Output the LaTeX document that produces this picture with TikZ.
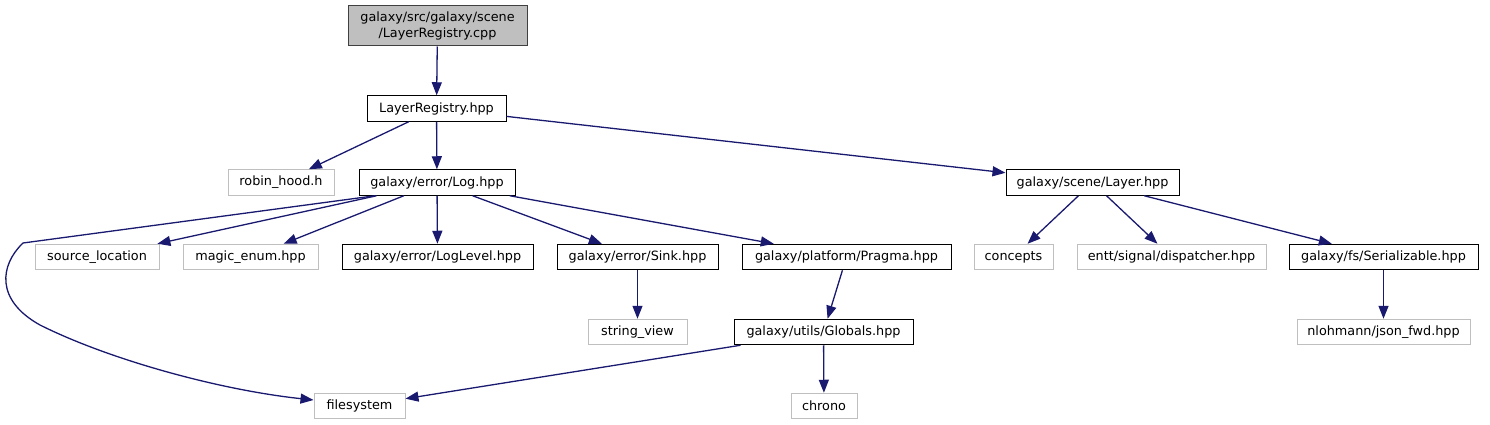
\documentclass[tikz,border=0pt]{standalone}
\usepackage{fontspec}
\setmainfont{DejaVu Sans}
\usetikzlibrary{arrows.meta}
\definecolor{edgecol}{HTML}{191970}
\definecolor{extgray}{HTML}{BFBFBF}
\definecolor{rootfill}{HTML}{BFBFBF}
\definecolor{rootdraw}{HTML}{404040}
\begin{document}
\begin{tikzpicture}[x=1pt,y=-1pt,
  box/.style={rectangle, inner sep=0pt, minimum height=25.5pt, line width=1pt, font=\fontsize{12.8}{16}\selectfont, text=black},
  doc/.style={box, draw=black},
  ext/.style={box, draw=extgray},
  rootbox/.style={box, draw=rootdraw, fill=rootfill, minimum height=40pt, align=center},
  edge/.style={draw=edgecol, line width=1.3pt, -{Triangle[length=13pt,width=10pt]}}]
\useasboundingbox (0,0) rectangle (1490,425);

% nodes
\node[rootbox, minimum width=179pt] (root) at (437.5,26) {galaxy/src/galaxy/scene\\/LayerRegistry.cpp};
\node[doc, minimum width=139pt] (lr) at (436.5,108.5) {LayerRegistry.hpp};
\node[ext, minimum width=106pt] (robin) at (281,182.5) {robin\_hood.h};
\node[doc, minimum width=156pt] (log) at (437,182.5) {galaxy/error/Log.hpp};
\node[doc, minimum width=173pt] (layer) at (1092.5,182.5) {galaxy/scene/Layer.hpp};
\node[ext, minimum width=124pt] (srcloc) at (97,257) {source\_location};
\node[ext, minimum width=135pt] (magic) at (250.5,257) {magic\_enum.hpp};
\node[doc, minimum width=191pt] (loglevel) at (437.5,257) {galaxy/error/LogLevel.hpp};
\node[doc, minimum width=161pt] (sink) at (637.5,257) {galaxy/error/Sink.hpp};
\node[doc, minimum width=209pt] (pragma) at (846.5,257) {galaxy/platform/Pragma.hpp};
\node[ext, minimum width=79pt] (concepts) at (1013.5,257) {concepts};
\node[ext, minimum width=189pt] (entt) at (1171.5,257) {entt/signal/dispatcher.hpp};
\node[doc, minimum width=189pt] (serial) at (1383.5,257) {galaxy/fs/Serializable.hpp};
\node[ext, minimum width=99pt] (strview) at (637.5,332) {string\_view};
\node[doc, minimum width=179pt] (globals) at (823.5,332) {galaxy/utils/Globals.hpp};
\node[ext, minimum width=173pt] (json) at (1383.5,332) {nlohmann/json\_fwd.hpp};
\node[ext, minimum width=91pt] (fs) at (359.5,406) {filesystem};
\node[ext, minimum width=66pt] (chrono) at (824,406) {chrono};

% edges
\draw[edge] (root) -- (lr);
\draw[edge] (lr) -- (robin);
\draw[edge] (lr) -- (log);
\draw[edge] (lr) -- (layer);
\draw[edge] (log) -- (srcloc);
\draw[edge] (log) -- (magic);
\draw[edge] (log) -- (loglevel);
\draw[edge] (log) -- (sink);
\draw[edge] (log) -- (pragma);
\draw[edge] ([xshift=-62pt]log.south) -- (23,243) .. controls (0,265) and (-5,300) .. (40,325) .. controls (110,360) and (220,390) .. ([yshift=6pt]fs.west);
\draw[edge] (layer) -- (concepts);
\draw[edge] (layer) -- (entt);
\draw[edge] (layer) -- (serial);
\draw[edge] (sink) -- (strview);
\draw[edge] (pragma) -- (globals);
\draw[edge] (globals) -- (fs);
\draw[edge] (globals) -- (chrono);
\draw[edge] (serial) -- (json);
\end{tikzpicture}
\end{document}
